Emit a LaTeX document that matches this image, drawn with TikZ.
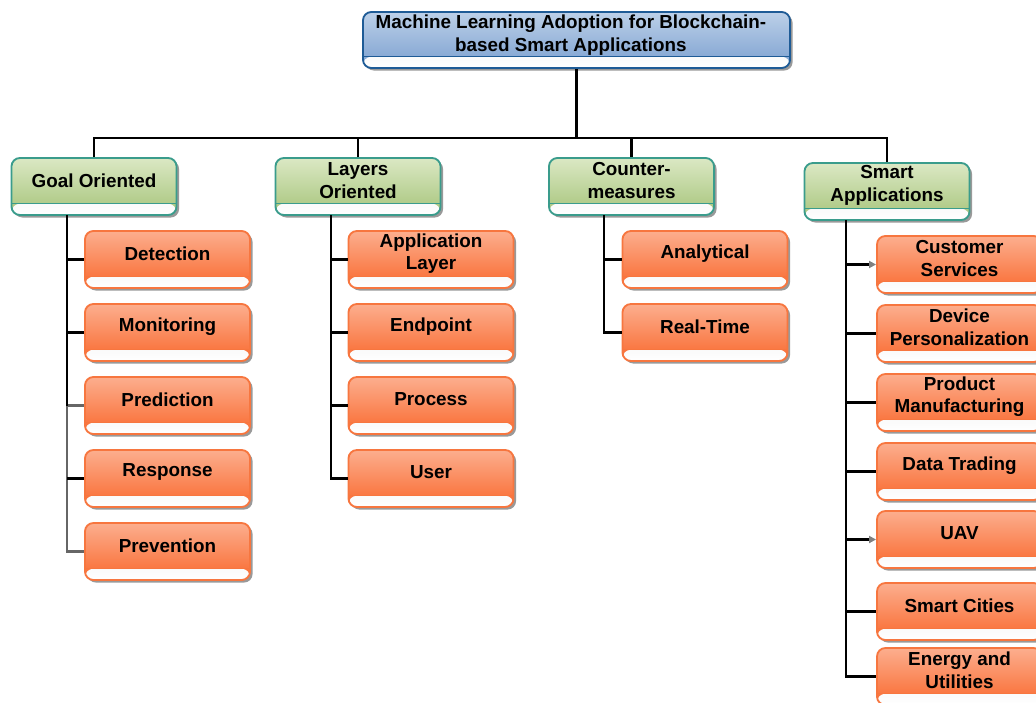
\documentclass[tikz,border=0pt]{standalone}
\usepackage{fontspec}
\setmainfont{Liberation Sans}
\usetikzlibrary{shadows,arrows.meta}

\definecolor{orangeline}{HTML}{F7763F}
\definecolor{orangetop}{HTML}{FCAE8E}
\definecolor{orangebot}{HTML}{F9692E}
\definecolor{greenline}{HTML}{3A9C8C}
\definecolor{greentop}{HTML}{DBE8C4}
\definecolor{greenbot}{HTML}{A6C47A}
\definecolor{blueline}{HTML}{1E5B96}
\definecolor{bluetop}{HTML}{BCD0E8}
\definecolor{bluebot}{HTML}{7CA0D0}
\definecolor{striptop}{HTML}{E6E6E6}

\tikzset{
  catbox/.style={rounded corners=6pt, minimum width=4.125cm, minimum height=1.425cm,
    draw=#1line, line width=1.3pt, top color=#1top, bottom color=#1bot,
    drop shadow={shadow xshift=1.8pt, shadow yshift=-1.8pt, fill=black, opacity=0.4},
    path picture={
      \shade[top color=striptop, bottom color=white]
        (path picture bounding box.south west) rectangle ([yshift=8pt]path picture bounding box.south east);
      \draw[#1line, line width=0.9pt]
        ([yshift=8pt]path picture bounding box.south west) -- ([yshift=8pt]path picture bounding box.south east);
    }},
  boxtext/.style={font=\bfseries\fontsize{13.4}{16}\selectfont, align=center, inner sep=0pt},
  tip/.style={-{Triangle[length=5pt,width=5pt,color=gray]}}
}

% box and its text, text sits above the grey strip
\newcommand{\catnode}[5]{%
  \node[catbox=#1] (#2) at (#3,#4) {};
  \node[boxtext] (#2-t) at ([yshift=4.3pt]#2.center) {#5};
}

\begin{document}
\begin{tikzpicture}[x=0.025cm, y=-0.025cm, line width=1.5pt]
  \useasboundingbox (0,0) rectangle (1036,702);
  \clip (0,0) rectangle (1036,702);

  % root
  \node[catbox=blue, minimum width=10.675cm, minimum height=1.4cm] (root) at (576.5,40) {};
  \node[boxtext] (root-t) at ([xshift=-4pt,yshift=3.4pt]root.center) {Machine Learning Adoption for Blockchain-\\based Smart Applications};
  \coordinate (bus) at (576.5,138);

  % categories
  \catnode{green}{goal}{94}{186.5}{Goal Oriented}
  \catnode{green}{layers}{358}{186.5}{Layers\\Oriented}
  \catnode{green}{counter}{631.5}{186.5}{Counter-\\measures}
  \catnode{green}{smart}{887}{191.5}{Smart\\Applications}

  \draw (root.south) -- (bus);
  \foreach \n in {goal,layers,counter,smart}
    \draw (\n.north) |- (bus);

  % goal oriented
  \catnode{orange}{det}{167.5}{259.5}{Detection}
  \catnode{orange}{mon}{167.5}{332.5}{Monitoring}
  \catnode{orange}{pre}{167.5}{405.5}{Prediction}
  \catnode{orange}{res}{167.5}{478.5}{Response}
  \catnode{orange}{prv}{167.5}{551.5}{Prevention}
  \coordinate (gs) at (67,215);
  \draw[gray!80!black] (gs) |- (prv.west);
  \draw[gray!80!black] (gs) |- (pre.west);
  \draw (gs) -- (gs |- pre.west);
  \draw (gs) |- (det.west);
  \draw (gs) |- (mon.west);
  \draw (res.west) -- (res.west -| gs);

  % layers oriented
  \catnode{orange}{app}{431}{259.5}{Application\\Layer}
  \catnode{orange}{endp}{431}{332.5}{Endpoint}
  \catnode{orange}{proc}{431}{405.5}{Process}
  \catnode{orange}{user}{431}{478.5}{User}
  \coordinate (ls) at (331,215);
  \foreach \c in {app,endp,proc,user}
    \draw (ls) |- (\c.west);

  % counter-measures
  \catnode{orange}{ana}{705}{259.5}{Analytical}
  \catnode{orange}{real}{705}{332.5}{Real-Time}
  \coordinate (cs) at (604,215);
  \foreach \c in {ana,real}
    \draw (cs) |- (\c.west);

  % smart applications
  \catnode{orange}{cust}{959.5}{264.5}{Customer\\Services}
  \catnode{orange}{dev}{959.5}{333.5}{Device\\Personalization}
  \catnode{orange}{prod}{959.5}{402.5}{Product\\Manufacturing}
  \catnode{orange}{data}{959.5}{471.5}{Data Trading}
  \catnode{orange}{uav}{959.5}{539.5}{UAV}
  \catnode{orange}{city}{959.5}{611.5}{Smart Cities}
  \catnode{orange}{ener}{959.5}{676.5}{Energy and\\Utilities}
  \coordinate (ss) at (846,220);
  \foreach \c in {dev,prod,data,city,ener}
    \draw (ss) |- (\c.west);
  \draw[tip] (ss) |- (cust.west);
  \draw[tip] (ss) |- (uav.west);
\end{tikzpicture}
\end{document}
